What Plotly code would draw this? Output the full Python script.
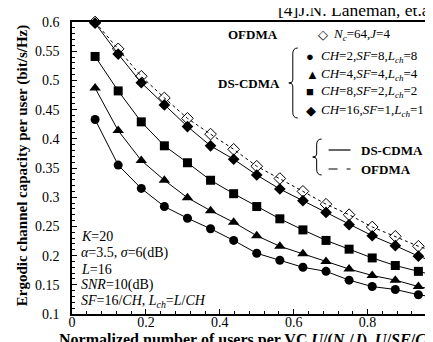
import plotly.graph_objects as go

# ---- data ----
k_index = list(range(1, 17))
x_norm = [k / 16 for k in k_index]

cap_ch2 = [0.433, 0.355, 0.315, 0.284, 0.264, 0.246, 0.226, 0.204, 0.192, 0.180,
           0.173, 0.158, 0.147, 0.142, 0.133, 0.127]
cap_ch4 = [0.487, 0.414, 0.363, 0.329, 0.299, 0.277, 0.257, 0.234, 0.216, 0.203,
           0.190, 0.177, 0.166, 0.158, 0.147, 0.139]
cap_ch8 = [0.541, 0.482, 0.429, 0.388, 0.359, 0.329, 0.306, 0.284, 0.263, 0.244,
           0.226, 0.211, 0.196, 0.183, 0.173, 0.163]
cap_ch16 = [0.598, 0.545, 0.496, 0.458, 0.421, 0.388, 0.365, 0.338, 0.314, 0.294,
            0.274, 0.253, 0.234, 0.217, 0.199, 0.185]
cap_ofdma = [0.600, 0.554, 0.507, 0.470, 0.435, 0.408, 0.382, 0.353, 0.332, 0.310,
             0.288, 0.270, 0.249, 0.233, 0.216, 0.203]

y_ticks = [0.1, 0.15, 0.2, 0.25, 0.3, 0.35, 0.4, 0.45, 0.5, 0.55, 0.6]
y_ticklabels = ["0.1", "0.15", "0.2", "0.25", "0.3", "0.35", "0.4", "0.45", "0.5", "0.55", "0.6"]
x_ticks = [0, 0.2, 0.4, 0.6, 0.8]
x_ticklabels = ["0", "0.2", "0.4", "0.6", "0.8"]

FONT = "Liberation Serif"
W, H = 433, 342
L, T, B, R = 64, 14, 36, 0
X_PX_PER_UNIT = 371.5
X_MAX = (W - L) / X_PX_PER_UNIT
Y_MIN, Y_MAX = 0.1, 0.6
PLOT_H = H - T - B


def px(xp):
    return (xp - L) / (W - L - R)


def py(yp):
    return (H - B - yp) / PLOT_H


fig = go.Figure()

fig.add_trace(go.Scatter(x=x_norm, y=cap_ofdma, mode="lines+markers",
                         line=dict(color="black", width=1, dash="dot"),
                         marker=dict(symbol="diamond-open", size=9, color="black",
                                     line=dict(width=1, color="black")),
                         cliponaxis=False, showlegend=False))
series = [(cap_ch2, "circle", 9), (cap_ch4, "triangle-up", 10),
          (cap_ch8, "square", 9), (cap_ch16, "diamond", 9)]
for ys, sym, sz in series:
    fig.add_trace(go.Scatter(x=x_norm, y=ys, mode="lines+markers",
                             line=dict(color="black", width=1),
                             marker=dict(symbol=sym, size=sz, color="black"),
                             cliponaxis=False, showlegend=False))

ann = []


def text(x, y, s, size=13, xa="left", ya="middle", angle=0):
    ann.append(dict(x=px(x), y=py(y), xref="paper", yref="paper", text=s,
                    showarrow=False, xanchor=xa, yanchor=ya, textangle=angle,
                    font=dict(family=FONT, size=size, color="black")))


# legend block 1
text(273, 26, "<b>OFDMA</b>", xa="right")
text(309, 26, "◇", size=13)
text(324, 26, "<i>N<sub>c</sub></i>=64,<i>J</i>=4")
text(275, 76, "<b>DS-CDMA</b>", xa="right")
entries = [(48, "●", "<i>CH</i>=2,<i>SF</i>=8,<i>L<sub>ch</sub></i>=8"),
           (66, "▲", "<i>CH</i>=4,<i>SF</i>=4,<i>L<sub>ch</sub></i>=4"),
           (84, "■", "<i>CH</i>=8,<i>SF</i>=2,<i>L<sub>ch</sub></i>=2"),
           (102, "◆", "<i>CH</i>=16,<i>SF</i>=1,<i>L<sub>ch</sub></i>=1")]
for yy, sym, s in entries:
    text(297, yy, sym, size=13)
    text(312, yy, s)

# legend block 2
text(353, 142, "<b>DS-CDMA</b>")
text(353, 161, "<b>OFDMA</b>")

# parameter block
params = [(228, "<i>K</i>=20"),
          (245, "<i>α</i>=3.5, <i>σ</i>=6(dB)"),
          (261, "<i>L</i>=16"),
          (277, "<i>SNR</i>=10(dB)"),
          (293, "<i>SF</i>=16/<i>CH</i>, <i>L<sub>ch</sub></i>=<i>L</i>/<i>CH</i>")]
for yy, s in params:
    text(71, yy, s, size=14)

# axis titles
text(14, 157, "<b>Ergodic channel capacity per user (bit/s/Hz)</b>", size=15,
     xa="center", angle=-90)
text(49, 332, "<b>Normalized number of users per VC <i>U</i>/(<i>N<sub>c</sub></i>/<i>J</i>), "
              "<i>U</i>/<i>SF</i>/<i>CH</i></b>", size=16)

shapes = []


def brace(x0, y0, y1):
    xm = px(x0)
    xt = px(x0 + 5)
    ym = (py(y0) + py(y1)) / 2
    top, bot = py(y0), py(y1)
    d = (f"M {xt} {top} Q {xm} {top} {xm} {top - 0.02} L {xm} {ym + 0.01} "
         f"Q {xm} {ym} {px(x0 - 4)} {ym} Q {xm} {ym} {xm} {ym - 0.01} "
         f"L {xm} {bot + 0.02} Q {xm} {bot} {xt} {bot}")
    shapes.append(dict(type="path", path=d, xref="paper", yref="paper",
                       line=dict(color="black", width=1)))


brace(286, 40, 110)
brace(310, 131, 167)
shapes.append(dict(type="line", xref="paper", yref="paper", x0=px(322), x1=px(344),
                   y0=py(142), y1=py(142), line=dict(color="black", width=1.2)))
shapes.append(dict(type="line", xref="paper", yref="paper", x0=px(322), x1=px(344),
                   y0=py(161), y1=py(161), line=dict(color="black", width=1.2, dash="dash")))

fig.update_layout(
    width=W, height=H, margin=dict(l=L, r=R, t=T, b=B),
    paper_bgcolor="white", plot_bgcolor="white",
    font=dict(family=FONT, size=13, color="black"),
    title=dict(text="[4]J.N. Laneman, et.al.", xref="container", yref="container",
               x=270 / W, xanchor="left", y=1 - 2 / H, yanchor="middle",
               font=dict(family=FONT, size=17.5, color="black")),
    annotations=ann, shapes=shapes,
    xaxis=dict(range=[0, X_MAX], tickvals=x_ticks, ticktext=x_ticklabels,
               ticks="inside", ticklen=5, tickwidth=1, tickcolor="black",
               minor=dict(dtick=0.04, ticks="inside", ticklen=3, tickwidth=1, tickcolor="black"),
               showline=True, linecolor="black", linewidth=1.5, mirror=True,
               showgrid=False, zeroline=False, ticklabelstandoff=-6,
               tickfont=dict(family=FONT, size=14)),
    yaxis=dict(range=[Y_MIN, Y_MAX], tickvals=y_ticks, ticktext=y_ticklabels,
               ticks="inside", ticklen=5, tickwidth=1, tickcolor="black",
               minor=dict(dtick=0.01, ticks="inside", ticklen=3, tickwidth=1, tickcolor="black"),
               showline=True, linecolor="black", linewidth=1.5, mirror=True,
               showgrid=False, zeroline=False, ticklabelstandoff=8,
               tickfont=dict(family=FONT, size=14)),
)

fig.write_html("out.html")
